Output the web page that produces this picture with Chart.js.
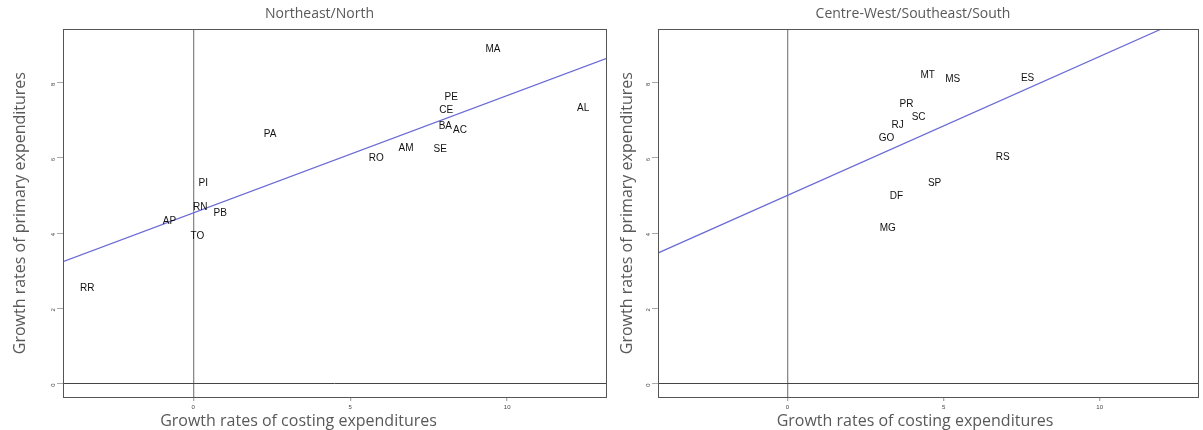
<!DOCTYPE html>
<html>
<head>
<meta charset="utf-8">
<script src="https://cdn.jsdelivr.net/npm/chart.js@4.4.1/dist/chart.umd.min.js"></script>
<style>
  body { margin: 0; background: #fff; width: 1203px; height: 430px; overflow: hidden; position: relative; }
  .panel { position: absolute; top: 0; height: 430px; }
  #p1 { left: 0; width: 607px; }
  #p2 { left: 607px; width: 596px; }
</style>
</head>
<body>
<div class="panel" id="p1"><canvas id="chNE"></canvas></div>
<div class="panel" id="p2"><canvas id="chCS"></canvas></div>
<script>
// tick labels
var xTicks = [0, 5, 10];
var yTicks = [0, 2, 4, 6, 8];

// Northeast/North states
var neStates = ['MA','PE','CE','BA','AC','AL','PA','AM','SE','RO','PI','RN','PB','AP','TO','RR'];
var neX = [9.55, 8.22, 8.06, 8.03, 8.5, 12.42, 2.45, 6.78, 7.87, 5.83, 0.32, 0.22, 0.86, -0.76, 0.13, -3.38];
var neY = [8.93, 7.67, 7.32, 6.88, 6.79, 7.36, 6.68, 6.31, 6.28, 6.04, 5.37, 4.73, 4.57, 4.36, 3.96, 2.59];
var neFitX = [-4.15, 13.15];
var neFitY = [3.24, 8.64];

// Centre-West/Southeast/South states
var csStates = ['MT','MS','ES','PR','SC','RJ','GO','RS','SP','DF','MG'];
var csX = [4.49, 5.29, 7.69, 3.81, 4.2, 3.53, 3.17, 6.89, 4.71, 3.49, 3.21];
var csY = [8.26, 8.13, 8.18, 7.49, 7.14, 6.93, 6.58, 6.07, 5.37, 5.03, 4.17];
var csFitX = [-4.2, 13.1];
var csFitY = [3.45, 9.84];

var titleColor = '#595959';

// state codes written at each point, plus the R style box and panel texts
var panelPlugin = {
  id: 'panel',
  afterDatasetsDraw: function(chart) {
    var ctx = chart.ctx;
    var meta = chart.getDatasetMeta(1);
    var names = chart.data.datasets[1].names;
    ctx.save();
    ctx.font = '10px "Liberation Sans", Arial, sans-serif';
    ctx.fillStyle = '#111';
    ctx.textAlign = 'center';
    ctx.textBaseline = 'middle';
    meta.data.forEach(function(el, i) {
      ctx.fillText(names[i], el.x, el.y + 2);
    });
    ctx.restore();
  },
  afterDraw: function(chart, args, opts) {
    var ctx = chart.ctx, a = chart.chartArea;
    ctx.save();
    ctx.strokeStyle = '#555';
    ctx.lineWidth = 1;
    ctx.strokeRect(Math.round(a.left) + 0.5, Math.round(a.top) + 0.5, Math.round(a.right - a.left), Math.round(a.bottom - a.top));
    ctx.fillStyle = titleColor;
    ctx.textAlign = 'center';
    ctx.textBaseline = 'middle';
    ctx.font = '14px "Open Sans", sans-serif';
    ctx.fillText(opts.title, (a.left + a.right) / 2 + opts.titleDx, 14);
    ctx.font = '16px "Open Sans", sans-serif';
    ctx.fillText(opts.xTitle, (a.left + a.right) / 2 + opts.xTitleDx, 421);
    ctx.restore();
  }
};

function makeChart(id, names, xs, ys, fitX, fitY, yWidth, padRight, title, titleDx, xTitleDx) {
  var pts = xs.map(function(v, i) { return {x: v, y: ys[i]}; });
  var fit = fitX.map(function(v, i) { return {x: v, y: fitY[i]}; });
  return new Chart(document.getElementById(id), {
    type: 'scatter',
    data: {
      datasets: [
        {
          type: 'line',
          data: fit,
          borderColor: '#6b6bd6',
          borderWidth: 1.2,
          pointRadius: 0,
          fill: false
        },
        {
          data: pts,
          names: names,
          pointRadius: 0,
          pointHoverRadius: 0
        }
      ]
    },
    options: {
      responsive: true,
      maintainAspectRatio: false,
      animation: false,
      events: [],
      layout: {padding: {top: 0, right: padRight, bottom: 0, left: 0}},
      plugins: {
        legend: {display: false},
        tooltip: {enabled: false},
        title: {display: true, text: '', padding: {top: 14, bottom: 14}, font: {size: 1}},
        panel: {title: title, titleDx: titleDx, xTitle: 'Growth rates of costing expenditures', xTitleDx: xTitleDx}
      },
      scales: {
        x: {
          type: 'linear',
          min: -4.15,
          max: 13.15,
          afterBuildTicks: function(s) { s.ticks = xTicks.map(function(v) { return {value: v}; }); },
          afterFit: function(s) { s.height = 33; },
          border: {display: false},
          grid: {
            color: function(c) { return c.tick && c.tick.value === 0 ? '#8a8a8a' : 'rgba(0,0,0,0)'; },
            lineWidth: 1.3,
            tickColor: '#aaa',
            tickLength: 4
          },
          ticks: {font: {size: 6}, color: '#444', padding: 3, maxRotation: 0}
        },
        y: {
          type: 'linear',
          min: -0.36,
          max: 9.42,
          afterBuildTicks: function(s) { s.ticks = yTicks.map(function(v) { return {value: v}; }); },
          afterFit: function(s) { s.width = yWidth; },
          border: {display: false},
          grid: {
            color: function(c) { return c.tick && c.tick.value === 0 ? '#444' : 'rgba(0,0,0,0)'; },
            lineWidth: 1,
            tickColor: '#aaa',
            tickLength: 6
          },
          ticks: {font: {size: 6}, color: '#444', padding: 4, minRotation: 90, maxRotation: 90},
          title: {
            display: true,
            text: 'Growth rates of primary expenditures',
            color: titleColor,
            font: {family: '"Open Sans", sans-serif', size: 16},
            padding: {top: 11, bottom: 0}
          }
        }
      }
    },
    plugins: [panelPlugin]
  });
}

makeChart('chNE', neStates, neX, neY, neFitX, neFitY, 63, 1, 'Northeast/North', -15, -36);
makeChart('chCS', csStates, csX, csY, csFitX, csFitY, 51, 5, 'Centre-West/Southeast/South', -15, -13);
</script>
</body>
</html>
